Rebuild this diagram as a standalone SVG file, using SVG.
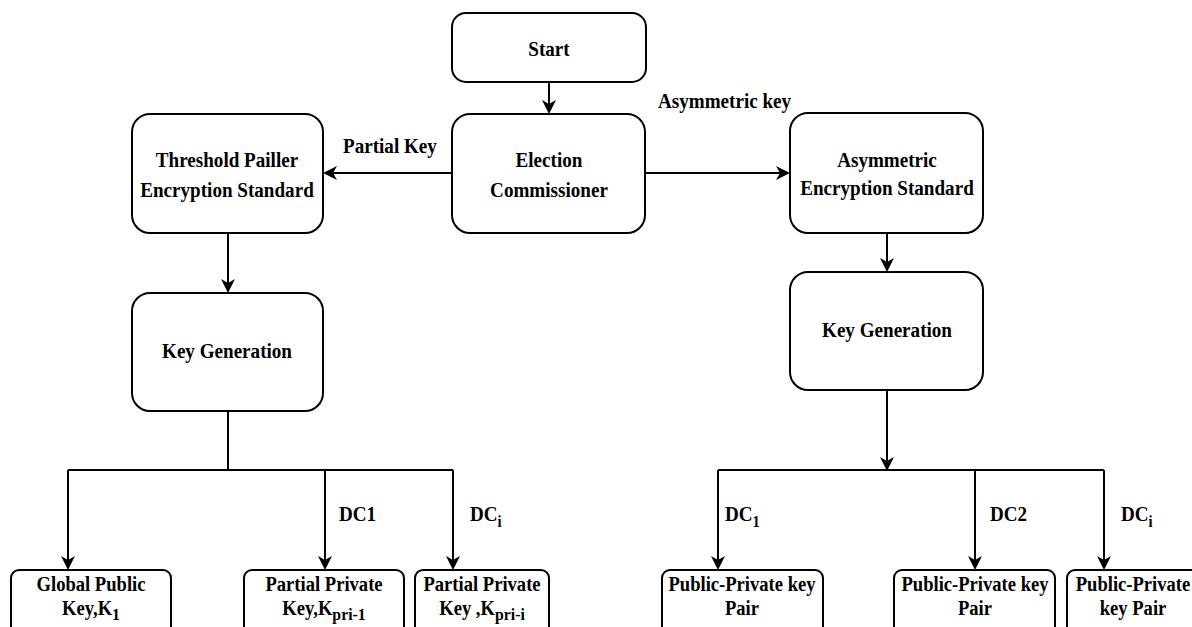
<svg xmlns="http://www.w3.org/2000/svg" width="1192" height="627" viewBox="0 0 1192 627">
  <style>
    .box { fill: #ffffff; stroke: #000000; stroke-width: 2; }
    .line { fill: none; stroke: #000000; stroke-width: 2; }
    .t { font-family: "Liberation Serif", "Times New Roman", serif; font-weight: bold; font-size: 21px; fill: #000000; text-anchor: middle; }
    .s { font-family: "Liberation Serif", "Times New Roman", serif; font-weight: bold; font-size: 20px; fill: #000000; text-anchor: middle; }
    .lbl { font-family: "Liberation Serif", "Times New Roman", serif; font-weight: bold; font-size: 21px; fill: #000000; }
  </style>
  <defs>
    <marker id="arrow" markerWidth="14" markerHeight="14" refX="12" refY="7" orient="auto" markerUnits="userSpaceOnUse">
      <path d="M0,0 L14,7 L0,14 L4,7 Z" fill="#000000"/>
    </marker>
  </defs>
  <rect width="1192" height="627" fill="#ffffff"/>

  <!-- connectors and their labels -->
  <g id="connectors">
    <line class="line" x1="549" y1="82" x2="549" y2="112" marker-end="url(#arrow)"/>
    <line class="line" x1="452" y1="173" x2="325" y2="173" marker-end="url(#arrow)"/>
    <line class="line" x1="645" y1="173" x2="788" y2="173" marker-end="url(#arrow)"/>
    <line class="line" x1="228" y1="233" x2="228" y2="291" marker-end="url(#arrow)"/>
    <line class="line" x1="887" y1="233" x2="887" y2="270" marker-end="url(#arrow)"/>
    <!-- left fan-out -->
    <polyline class="line" points="228,411 228,470"/>
    <polyline class="line" points="68,470 453,470"/>
    <line class="line" x1="68" y1="470" x2="68" y2="568" marker-end="url(#arrow)"/>
    <line class="line" x1="325" y1="470" x2="325" y2="568" marker-end="url(#arrow)"/>
    <line class="line" x1="453" y1="470" x2="453" y2="568" marker-end="url(#arrow)"/>
    <!-- right fan-out -->
    <line class="line" x1="887" y1="390" x2="887" y2="469" marker-end="url(#arrow)"/>
    <polyline class="line" points="718,470 1104,470"/>
    <line class="line" x1="718" y1="470" x2="718" y2="568" marker-end="url(#arrow)"/>
    <line class="line" x1="975" y1="470" x2="975" y2="568" marker-end="url(#arrow)"/>
    <line class="line" x1="1104" y1="470" x2="1104" y2="568" marker-end="url(#arrow)"/>
    <text class="lbl" transform="translate(343,153) scale(0.91,1)">Partial Key</text>
    <text class="lbl" transform="translate(658,108) scale(0.91,1)">Asymmetric key</text>
    <text class="lbl" transform="translate(339,521) scale(0.91,1)">DC1</text>
    <text class="lbl" transform="translate(470,521) scale(0.91,1)">DC<tspan font-size="16" dy="6">i</tspan></text>
    <text class="lbl" transform="translate(725,521) scale(0.91,1)">DC<tspan font-size="16" dy="6">1</tspan></text>
    <text class="lbl" transform="translate(990,521) scale(0.91,1)">DC2</text>
    <text class="lbl" transform="translate(1121,521) scale(0.91,1)">DC<tspan font-size="16" dy="6">i</tspan></text>
  </g>

  <g id="start">
    <rect class="box" x="452" y="13" width="194" height="69" rx="14"/>
    <text class="t" transform="translate(549,56) scale(0.91,1)">Start</text>
  </g>
  <g id="election-commissioner">
    <rect class="box" x="452" y="114" width="193" height="119" rx="18"/>
    <text class="t" transform="translate(549,167) scale(0.91,1)">Election</text>
    <text class="t" transform="translate(549,197) scale(0.91,1)">Commissioner</text>
  </g>
  <g id="threshold-paillier">
    <rect class="box" x="132" y="114" width="191" height="119" rx="18"/>
    <text class="t" transform="translate(227,167) scale(0.91,1)">Threshold Pailler</text>
    <text class="t" transform="translate(227,197) scale(0.91,1)">Encryption Standard</text>
  </g>
  <g id="asymmetric-standard">
    <rect class="box" x="790" y="113" width="193" height="120" rx="18"/>
    <text class="t" transform="translate(887,167) scale(0.91,1)">Asymmetric</text>
    <text class="t" transform="translate(887,195) scale(0.91,1)">Encryption Standard</text>
  </g>
  <g id="keygen-left">
    <rect class="box" x="132" y="293" width="191" height="118" rx="18"/>
    <text class="t" transform="translate(227,358) scale(0.91,1)">Key Generation</text>
  </g>
  <g id="keygen-right">
    <rect class="box" x="790" y="272" width="193" height="118" rx="18"/>
    <text class="t" transform="translate(887,337) scale(0.91,1)">Key Generation</text>
  </g>

  <g id="global-public-key">
    <rect class="box" x="11" y="570" width="160" height="70" rx="8"/>
    <text class="s" transform="translate(91,591) scale(0.93,1)">Global Public</text>
    <text class="s" transform="translate(91,615) scale(0.93,1)">Key,K<tspan font-size="17" dy="5">1</tspan></text>
  </g>
  <g id="partial-private-1">
    <rect class="box" x="244" y="570" width="160" height="70" rx="8"/>
    <text class="s" transform="translate(324,591) scale(0.93,1)">Partial Private</text>
    <text class="s" transform="translate(324,615) scale(0.93,1)">Key,K<tspan font-size="17" dy="5">pri-1</tspan></text>
  </g>
  <g id="partial-private-i">
    <rect class="box" x="415" y="570" width="134" height="70" rx="8"/>
    <text class="s" transform="translate(482,591) scale(0.93,1)">Partial Private</text>
    <text class="s" transform="translate(482,615) scale(0.93,1)">Key ,K<tspan font-size="17" dy="5">pri-i</tspan></text>
  </g>
  <g id="key-pair-1">
    <rect class="box" x="662" y="570" width="161" height="70" rx="8"/>
    <text class="s" transform="translate(742,591) scale(0.93,1)">Public-Private key</text>
    <text class="s" transform="translate(742,615) scale(0.93,1)">Pair</text>
  </g>
  <g id="key-pair-2">
    <rect class="box" x="894" y="570" width="161" height="70" rx="8"/>
    <text class="s" transform="translate(975,591) scale(0.93,1)">Public-Private key</text>
    <text class="s" transform="translate(975,615) scale(0.93,1)">Pair</text>
  </g>
  <g id="key-pair-i">
    <rect class="box" x="1067" y="570" width="140" height="70" rx="8"/>
    <text class="s" transform="translate(1133,591) scale(0.93,1)">Public-Private</text>
    <text class="s" transform="translate(1133,615) scale(0.93,1)">key Pair</text>
  </g>
</svg>
